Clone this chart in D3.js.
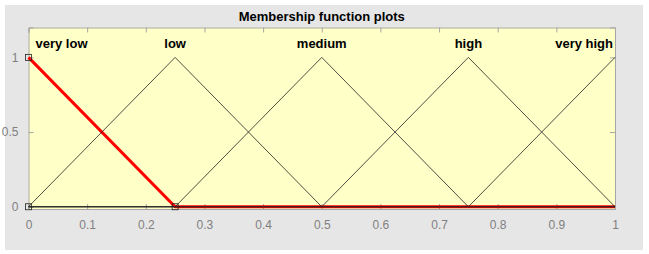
<!DOCTYPE html>
<html>
<head>
<meta charset="utf-8">
<script src="https://cdn.jsdelivr.net/npm/d3@7"></script>
<style>
body { margin: 0; background: #fff; }
text { font-family: "Liberation Sans", Arial, sans-serif; }
</style>
</head>
<body>
<div id="chart"></div>
<script>
// membership functions (trimf params a, b, c)
var mfNames = ["very low", "low", "medium", "high", "very high"];
var mfA = [-0.25, 0, 0.25, 0.5, 0.75];
var mfB = [0, 0.25, 0.5, 0.75, 1];
var mfC = [0.25, 0.5, 0.75, 1, 1.25];
var selected = 0;
var xTicks = [0, 0.1, 0.2, 0.3, 0.4, 0.5, 0.6, 0.7, 0.8, 0.9, 1];
var yTicks = [0, 0.5, 1];

var W = 649, H = 254;
var svg = d3.select("#chart").append("svg")
  .attr("width", W).attr("height", H);

// grey figure background
svg.append("rect").attr("x", 5).attr("y", 5).attr("width", 638).attr("height", 245)
  .attr("fill", "#e6e6e6");

var pLeft = 28.5, pRight = 615, pTop = 27.5, pBottom = 209;
var x = d3.scaleLinear().domain([0, 1]).range([pLeft, pRight]);
var y = d3.scaleLinear().domain([-0.015, 1.2]).range([pBottom, pTop]);

svg.append("rect").attr("x", pLeft).attr("y", pTop)
  .attr("width", pRight - pLeft).attr("height", pBottom - pTop)
  .attr("fill", "#ffffc8");

// axes with inward ticks
var xAxis = svg.append("g").attr("transform", "translate(0," + pBottom + ")")
  .call(d3.axisBottom(x).tickValues(xTicks).tickSize(-5).tickPadding(11)
    .tickFormat(d3.format("")));
var xAxisTop = svg.append("g").attr("transform", "translate(0," + pTop + ")")
  .call(d3.axisTop(x).tickValues(xTicks).tickSize(-5).tickFormat(""));
var yAxis = svg.append("g").attr("transform", "translate(" + pLeft + ",0)")
  .call(d3.axisLeft(y).tickValues(yTicks).tickSize(-5).tickPadding(10)
    .tickFormat(d3.format("")));
var yAxisR = svg.append("g").attr("transform", "translate(" + pRight + ",0)")
  .call(d3.axisRight(y).tickValues(yTicks).tickSize(-5).tickFormat(""));

[xAxis, xAxisTop, yAxis, yAxisR].forEach(function(g) {
  g.select(".domain").attr("stroke", "#a6a6a6");
  g.selectAll(".tick line").attr("stroke", "#a6a6a6");
  g.selectAll(".tick text").attr("fill", "#808080").style("font-size", "12px");
});

// membership function curve points clipped to [0,1]
function mfPoints(i) {
  var xs = [0, mfA[i], mfB[i], mfC[i], 1].filter(function(v) { return v >= 0 && v <= 1; });
  xs = Array.from(new Set(xs)).sort(function(a, b) { return a - b; });
  return xs.map(function(v) {
    var a = mfA[i], b = mfB[i], c = mfC[i], m;
    if (v <= a || v >= c) m = 0;
    else if (v <= b) m = (v - a) / (b - a);
    else m = (c - v) / (c - b);
    if (v === b) m = 1;
    return [v, m];
  });
}

var line = d3.line().x(function(d) { return x(d[0]); }).y(function(d) { return y(d[1]); });

// selected one in red, drawn first
svg.append("path").datum(mfPoints(selected)).attr("d", line)
  .attr("fill", "none").attr("stroke", "#ff0000").attr("stroke-width", 3);

mfNames.forEach(function(n, i) {
  if (i === selected) return;
  svg.append("path").datum(mfPoints(i)).attr("d", line)
    .attr("fill", "none").attr("stroke", "#222").attr("stroke-width", 0.8);
});

// square handles on the selected MF
var handles = [[0, 1], [0, 0], [mfC[selected], 0]];
svg.selectAll(".handle").data(handles).enter().append("rect")
  .attr("x", function(d) { return x(d[0]) - 3; })
  .attr("y", function(d) { return y(d[1]) - 3; })
  .attr("width", 6).attr("height", 6)
  .attr("fill", "none").attr("stroke", "#222").attr("stroke-width", 0.8);

// mf labels
svg.selectAll(".mflabel").data(mfNames).enter().append("text")
  .attr("x", function(d, i) {
    if (i === 0) return x(0) + 7;
    if (i === mfNames.length - 1) return x(1) - 2;
    return x(mfB[i]);
  })
  .attr("y", 48)
  .attr("text-anchor", function(d, i) {
    return i === 0 ? "start" : (i === mfNames.length - 1 ? "end" : "middle");
  })
  .style("font-size", "13px").style("font-weight", "bold")
  .text(function(d) { return d; });

svg.append("text").attr("x", (pLeft + pRight) / 2).attr("y", 21)
  .attr("text-anchor", "middle").style("font-size", "13px").style("font-weight", "bold")
  .text("Membership function plots");
</script>
</body>
</html>
